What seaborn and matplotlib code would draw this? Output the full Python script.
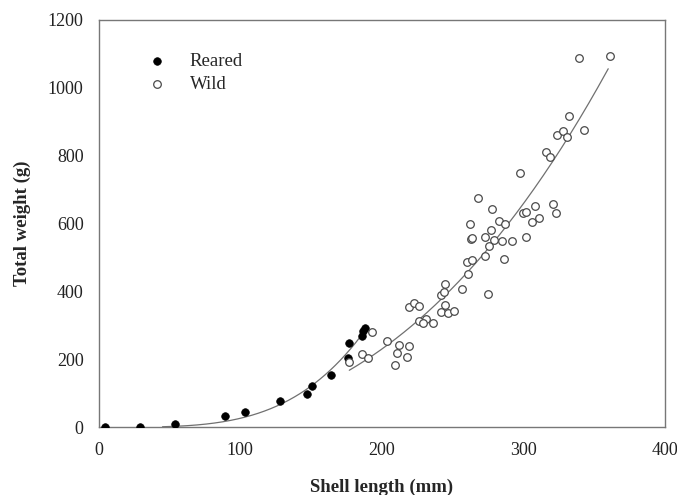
import numpy as np
import matplotlib
matplotlib.use("Agg")
import matplotlib.pyplot as plt
import seaborn as sns

# Reared clams: shell length (mm) and total weight (g)
reared_len = [4, 29, 54, 89, 103, 128, 147, 151, 164, 176, 177, 186, 187, 188]
reared_wt = [0.3, 1.5, 10, 33, 45, 78, 99, 122, 153, 203, 248, 270, 282, 292]

# Wild clams
wild_len = [177, 186, 190, 193, 209, 204, 212, 219, 211, 218,
            219, 223, 226, 226, 231, 229, 236, 242, 244, 245,
            242, 245, 247, 251, 257, 261, 275, 260, 264, 262,
            263, 264, 268, 278, 277, 273, 279, 283, 287, 285,
            292, 276, 273, 286, 298, 300, 302, 308, 306, 311,
            302, 321, 323, 316, 319, 324, 328, 331, 343, 332,
            339, 361]
wild_wt = [193, 215, 205, 281, 183, 254, 242, 239, 218, 208,
           355, 365, 357, 313, 318, 306, 306, 390, 397, 423,
           340, 360, 335, 342, 407, 451, 392, 488, 493, 598,
           555, 557, 675, 643, 581, 559, 552, 608, 598, 549,
           547, 534, 505, 495, 748, 632, 633, 652, 605, 617,
           560, 658, 632, 810, 797, 861, 871, 855, 875, 916,
           1088, 1093]

# ranges over which the fitted curves are drawn
reared_fit_range = (45, 188)
wild_fit_range = (177, 360)


def power_fit(x, y):
    # least squares fit of y = a * x**b
    x = np.asarray(x, float)
    y = np.asarray(y, float)
    best = None
    for b in np.arange(1.5, 4.5, 0.001):
        xb = x ** b
        a = (y * xb).sum() / (xb * xb).sum()
        err = ((y - a * xb) ** 2).sum()
        if best is None or err < best[0]:
            best = (err, a, b)
    return best[1], best[2]


sns.set_style("white")
plt.rcParams['font.family'] = ['Liberation Serif', 'DejaVu Serif']

fig = plt.figure(figsize=(6.77, 4.95), dpi=100)
ax = fig.add_axes([0.146, 0.137, 0.836, 0.823])

sns.scatterplot(x=reared_len, y=reared_wt, color='black', edgecolor='black',
                s=30, linewidth=0.5, label='Reared', ax=ax, zorder=3)
sns.scatterplot(x=wild_len, y=wild_wt, color='white', edgecolor='#4a4a4a',
                s=30, linewidth=0.9, label='Wild', ax=ax, zorder=3)

for xs, ys, rng in [(reared_len, reared_wt, reared_fit_range),
                    (wild_len, wild_wt, wild_fit_range)]:
    a, b = power_fit(xs, ys)
    lx = np.linspace(rng[0], rng[1], 200)
    sns.lineplot(x=lx, y=a * lx ** b, color='#707070', linewidth=0.9, ax=ax, zorder=2)

ax.set_xlim(0, 400)
ax.set_ylim(0, 1200)
ax.set_xticks([0, 100, 200, 300, 400])
ax.set_yticks([0, 200, 400, 600, 800, 1000, 1200])

for sp in ax.spines.values():
    sp.set_color('#777777')
    sp.set_linewidth(1.0)

ax.tick_params(direction='out', length=4, width=1, color='#555555',
               labelsize=13, pad=7, labelcolor='#222222')

ax.set_xlabel('Shell length (mm)', fontsize=13.5, fontweight='bold', labelpad=14)
ax.set_ylabel('Total weight (g)', fontsize=13.5, fontweight='bold', labelpad=12)

ax.legend(loc='upper left', bbox_to_anchor=(0.086, 0.92), frameon=False,
          fontsize=13.5, handlelength=1.0, handletextpad=1.25,
          labelspacing=0.36, borderpad=0, borderaxespad=0)

fig.savefig('out.png', dpi=100)
